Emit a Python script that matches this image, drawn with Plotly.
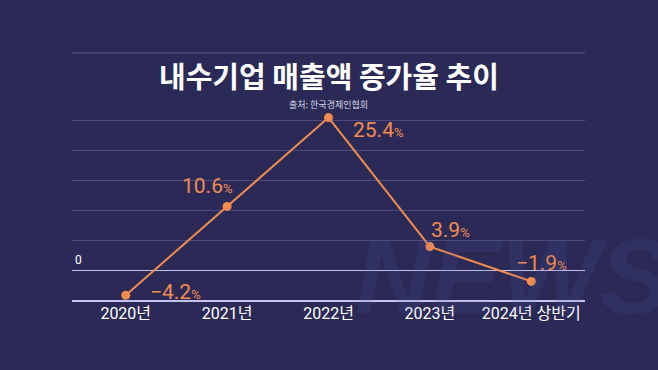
import plotly.graph_objects as go

categories = ["2020년", "2021년", "2022년", "2023년", "2024년 상반기"]
growth = [-4.2, 10.6, 25.4, 3.9, -1.9]
value_labels = ["−4.2", "10.6", "25.4", "3.9", "−1.9"]

title_text = "내수기업 매출액 증가율 추이"
source_text = "출처: 한국경제인협회"

BG = "#2b2a57"
GRID = "#4a4a7e"
AXIS = "#c4c4ee"
ORANGE = "#f28c4e"

fig = go.Figure()
fig.add_trace(go.Scatter(
    x=list(range(len(categories))), y=growth,
    mode="lines+markers",
    line=dict(color=ORANGE, width=2),
    marker=dict(color=ORANGE, size=9),
    cliponaxis=False, hoverinfo="skip",
))

# label placement styles (anchor, xshift, yshift)
label_style = [
    ("left", 22, 3),
    ("right", 7, 20),
    ("left", 22, -12),
    ("left", -1, 17),
    ("left", -17, 18),
]
for i, (v, lab) in enumerate(zip(growth, value_labels)):
    anc, xs, ys = label_style[i]
    fig.add_annotation(
        x=i, y=v, xref="x", yref="y", showarrow=False,
        text=f"{lab}<span style='font-size:13px'>%</span>",
        font=dict(family="Roboto, Noto Sans CJK KR", size=21, color=ORANGE),
        xanchor=anc, yanchor="middle", xshift=xs, yshift=ys,
    )

fig.add_annotation(
    x=0.5, y=1.23, xref="paper", yref="paper", showarrow=False,
    text=f"<b>{title_text}</b>",
    font=dict(family="Noto Sans CJK KR", size=29, color="white"),
    xanchor="center", yanchor="middle",
)
fig.add_annotation(
    x=0.5, y=1.071, xref="paper", yref="paper", showarrow=False,
    text=source_text,
    font=dict(family="Noto Sans CJK KR", size=9, color="#d8d8ea"),
    xanchor="center", yanchor="middle",
)
fig.add_annotation(
    x=0, y=0, xref="paper", yref="y", showarrow=False,
    text="0", font=dict(family="Roboto", size=12, color="white"),
    xanchor="left", yanchor="bottom", xshift=1, yshift=1,
)
# faint watermark
fig.add_annotation(
    x=1.17, y=-0.2, xref="paper", yref="paper", showarrow=False,
    text="<b><i>NEWS</i></b>",
    font=dict(family="Liberation Sans", size=105, color="rgba(90,90,175,0.13)"),
    xanchor="right", yanchor="bottom",
)
# decorative top rule
fig.add_shape(type="line", xref="paper", yref="paper",
              x0=0, x1=1, y0=1.35, y1=1.35,
              line=dict(color=GRID, width=1.5))

fig.update_layout(
    width=658, height=370,
    margin=dict(l=72, r=73, t=117, b=70),
    paper_bgcolor=BG, plot_bgcolor=BG,
    showlegend=False,
    xaxis=dict(
        range=[-0.53, 4.53],
        tickmode="array", tickvals=list(range(len(categories))), ticktext=categories,
        tickfont=dict(family="Roboto, Noto Sans CJK KR", size=16, color="white"),
        showgrid=False, zeroline=False,
        showline=True, linecolor=AXIS, linewidth=1.5,
        ticks="", fixedrange=True, ticklabelstandoff=-2,
    ),
    yaxis=dict(
        range=[-5, 25.5], tickvals=[-5, 0, 5, 10, 15, 20, 25],
        showticklabels=False, showgrid=True, gridcolor=GRID, gridwidth=1,
        zeroline=True, zerolinecolor=AXIS, zerolinewidth=1,
        showline=False, fixedrange=True,
    ),
)

fig.write_html("out.html", config={"displayModeBar": False},
               post_script="document.body.style.margin='0';")
